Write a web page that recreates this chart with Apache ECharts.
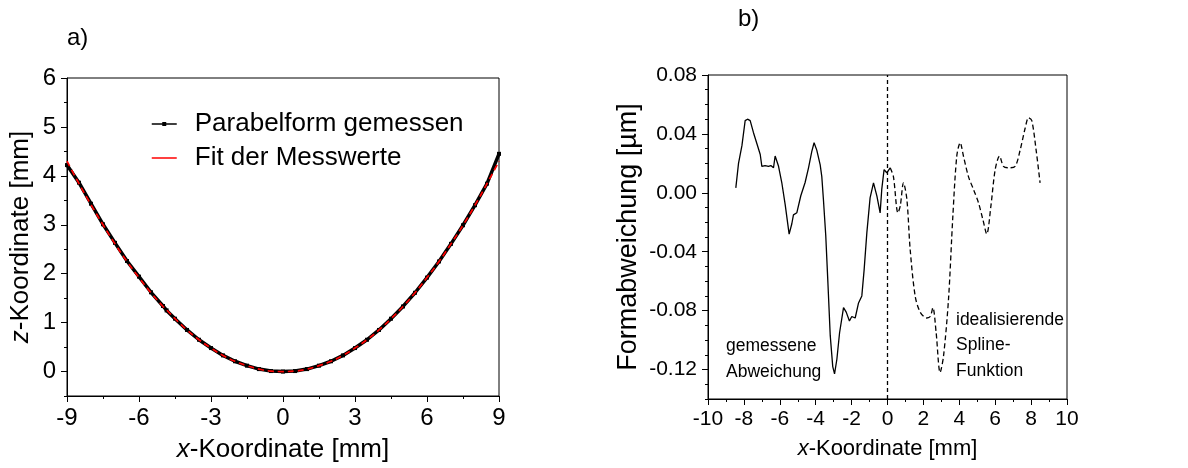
<!DOCTYPE html>
<html>
<head>
<meta charset="utf-8">
<script src="https://cdn.jsdelivr.net/npm/echarts@6/dist/echarts.min.js"></script>
<style>html,body{margin:0;padding:0;background:#fff}#c{width:1188px;height:468px}</style>
</head>
<body>
<div id="c"></div>
<script>
// ---- Panel a) : parabola ----
const parabX = [-9,-8.5,-8,-7.5,-7,-6.5,-6,-5.5,-5,-4.85,-4.5,-4,-3.5,-3,-2.5,-2,-1.5,-1,-0.5,0,0.5,1,1.5,2,2.5,3,3.5,4,4.5,5,5.5,6,6.5,7,7.5,8,8.5,9];
const parabMeasured = [4.22,3.86,3.43,3.01,2.63,2.26,1.94,1.62,1.34,1.25,1.08,0.85,0.65,0.48,0.33,0.21,0.12,0.05,0.01,0.0,0.01,0.05,0.12,0.21,0.33,0.48,0.65,0.85,1.08,1.33,1.61,1.92,2.25,2.61,2.99,3.40,3.84,4.45];
const parabFit = [4.30,3.84,3.41,3.00,2.61,2.25,1.92,1.61,1.33,1.26,1.08,0.85,0.65,0.48,0.33,0.21,0.12,0.05,0.01,0.0,0.01,0.05,0.12,0.21,0.33,0.48,0.65,0.85,1.08,1.33,1.61,1.92,2.25,2.61,2.99,3.40,3.84,4.30];
const leftYTicks = [0,1,2,3,4,5,6];

// ---- Panel b) : deviation ----
const measX = [-8.45,-8.30,-8.11,-7.93,-7.80,-7.65,-7.47,-7.24,-7.09,-7.0,-6.82,-6.63,-6.5,-6.35,-6.26,-6.07,-5.89,-5.70,-5.48,-5.33,-5.24,-5.05,-4.83,-4.59,-4.40,-4.22,-4.09,-3.94,-3.75,-3.66,-3.57,-3.44,-3.32,-3.19,-3.05,-2.95,-2.82,-2.67,-2.45,-2.30,-2.12,-1.99,-1.80,-1.62,-1.43,-1.30,-1.15,-0.97,-0.78,-0.59,-0.41,-0.32,-0.19,-0.04,0.06,0.15];
const measY = [0.0034,0.020,0.032,0.049,0.050,0.049,0.041,0.032,0.026,0.018,0.0185,0.018,0.0185,0.017,0.025,0.018,0.007,-0.008,-0.028,-0.021,-0.015,-0.0135,-0.002,0.007,0.017,0.028,0.034,0.029,0.019,0.011,-0.0045,-0.029,-0.061,-0.097,-0.118,-0.123,-0.113,-0.095,-0.078,-0.081,-0.087,-0.084,-0.085,-0.075,-0.070,-0.052,-0.027,-0.0034,0.0068,-0.0023,-0.0136,0.0023,0.0158,0.0136,0.0147,0.017];
const splineX = [0.15,0.33,0.58,0.71,0.89,1.08,1.26,1.54,1.82,2.19,2.38,2.53,2.71,2.93,3.12,3.40,3.64,3.86,4.05,4.23,4.51,4.79,5.07,5.31,5.53,5.76,6.0,6.24,6.46,6.74,7.11,7.39,7.67,7.86,8.04,8.28,8.50];
const splineY = [0.017,0.011,-0.0136,-0.009,0.0068,-0.0045,-0.038,-0.070,-0.081,-0.085,-0.084,-0.078,-0.095,-0.122,-0.111,-0.072,-0.016,0.025,0.034,0.025,0.011,0.0023,-0.0068,-0.018,-0.028,-0.009,0.0158,0.025,0.018,0.017,0.018,0.029,0.044,0.051,0.049,0.029,0.0068];
const rightYTicks = [-0.12,-0.08,-0.04,0,0.04,0.08];

const FONT = '"Liberation Sans", Arial, Helvetica, sans-serif';
const black = '#000';

function zip(a, b) { return a.map((v, i) => [v, b[i]]); }

const chart = echarts.init(document.getElementById('c'), null, {renderer: 'canvas'});

const axisCommon = {
  axisLine: {show: true, onZero: false, lineStyle: {color: black, width: 1}},
  splitLine: {show: false},
  minorSplitLine: {show: false}
};

const option = {
  animation: false,
  backgroundColor: '#fff',
  textStyle: {fontFamily: FONT, color: black},
  grid: [
    {left: 67, top: 78, width: 432, height: 324, show: true, borderColor: black, borderWidth: 1, backgroundColor: 'transparent'},
    {left: 708, top: 75, width: 359, height: 324, show: true, borderColor: black, borderWidth: 1, backgroundColor: 'transparent'}
  ],
  xAxis: [
    Object.assign({}, axisCommon, {
      gridIndex: 0, type: 'value', min: -9, max: 9, interval: 3,
      axisTick: {show: true, inside: false, length: 6, lineStyle: {color: black}},
      minorTick: {show: true, splitNumber: 2, length: 3, lineStyle: {color: black}},
      axisLabel: {fontSize: 24, color: black, margin: 10, fontFamily: FONT},
      name: '{i|x}-Koordinate [mm]', nameLocation: 'middle', nameGap: 41,
      nameTextStyle: {fontSize: 26, color: black, fontFamily: FONT,
        rich: {i: {fontSize: 26, fontStyle: 'italic', color: black, fontFamily: FONT}}}
    }),
    Object.assign({}, axisCommon, {
      gridIndex: 1, type: 'value', min: -10, max: 10, interval: 2,
      axisTick: {show: true, inside: false, length: 6, lineStyle: {color: black}},
      minorTick: {show: true, splitNumber: 2, length: 3, lineStyle: {color: black}},
      axisLabel: {fontSize: 21, color: black, margin: 10, fontFamily: FONT},
      name: '{i|x}-Koordinate [mm]', nameLocation: 'middle', nameGap: 39,
      nameTextStyle: {fontSize: 22, color: black, fontFamily: FONT,
        rich: {i: {fontSize: 22, fontStyle: 'italic', color: black, fontFamily: FONT}}}
    })
  ],
  yAxis: [
    Object.assign({}, axisCommon, {
      gridIndex: 0, type: 'value', min: -0.5, max: 6, position: 'left',
      axisTick: {show: true, inside: false, length: 6, customValues: leftYTicks, lineStyle: {color: black}},
      axisLabel: {fontSize: 24, color: black, margin: 11, fontFamily: FONT, customValues: leftYTicks},
      name: '{i|z}-Koordinate [mm]', nameLocation: 'middle', nameGap: 33, nameRotate: 90,
      nameTextStyle: {fontSize: 26, color: black, fontFamily: FONT,
        rich: {i: {fontSize: 26, fontStyle: 'italic', color: black, fontFamily: FONT}}}
    }),
    Object.assign({}, axisCommon, {
      gridIndex: 0, type: 'value', min: -0.5, max: 6, interval: 0.5, position: 'left', offset: 0,
      axisLine: {show: false, onZero: false},
      axisTick: {show: true, inside: false, length: 3, lineStyle: {color: black}},
      axisLabel: {show: false}
    }),
    Object.assign({}, axisCommon, {
      gridIndex: 1, type: 'value', min: -0.14, max: 0.08, position: 'left',
      axisTick: {show: true, inside: false, length: 6, customValues: rightYTicks, lineStyle: {color: black}},
      axisLabel: {fontSize: 21, color: black, margin: 11, fontFamily: FONT, customValues: rightYTicks,
        formatter: v => v.toFixed(2)},
      name: 'Formabweichung [µm]', nameLocation: 'middle', nameGap: 66, nameRotate: 90,
      nameTextStyle: {fontSize: 27, color: black, fontFamily: FONT}
    }),
    Object.assign({}, axisCommon, {
      gridIndex: 1, type: 'value', min: -0.14, max: 0.08, interval: 0.01, position: 'left', offset: 0,
      axisLine: {show: false, onZero: false},
      axisTick: {show: true, inside: false, length: 3, lineStyle: {color: black}},
      axisLabel: {show: false}
    })
  ],
  legend: {
    left: 146, top: 106, orient: 'vertical', padding: 5, itemWidth: 25, itemHeight: 5, itemGap: 8,
    data: [
      {name: 'Parabelform gemessen', lineStyle: {width: 1.5}, itemStyle: {color: black}},
      {name: 'Fit der Messwerte', lineStyle: {width: 1.5, type: 'solid', color: '#ff0000'}, itemStyle: {opacity: 0}}
    ],
    textStyle: {fontSize: 26, color: black, fontFamily: FONT, lineHeight: 26, padding: [0, 0, 0, 13]}
  },
  graphic: [
    {type: 'text', left: 67, top: 26, style: {text: 'a)', font: '24px ' + FONT, fill: black}},
    {type: 'text', left: 738, top: 7, style: {text: 'b)', font: '24px ' + FONT, fill: black}},
    {type: 'text', left: 726, top: 333, style: {text: 'gemessene\nAbweichung', font: '17.5px ' + FONT, fill: black, lineHeight: 26}},
    {type: 'text', left: 956, top: 307, style: {text: 'idealisierende\nSpline-\nFunktion', font: '17.5px ' + FONT, fill: black, lineHeight: 25.5}}
  ],
  series: [
    {
      name: 'Parabelform gemessen', type: 'line', xAxisIndex: 0, yAxisIndex: 0,
      data: zip(parabX, parabMeasured), symbol: 'rect', symbolSize: 4, showSymbol: true,
      lineStyle: {color: black, width: 3.5}, itemStyle: {color: black}, z: 2
    },
    {
      name: 'Fit der Messwerte', type: 'line', xAxisIndex: 0, yAxisIndex: 0,
      data: zip(parabX, parabFit), symbol: 'none', smooth: true,
      lineStyle: {color: '#ff0000', width: 1.7, type: [6, 4]}, itemStyle: {color: '#ff0000'}, z: 3
    },
    {
      name: 'gemessen', type: 'line', xAxisIndex: 1, yAxisIndex: 2,
      data: zip(measX, measY), symbol: 'none',
      lineStyle: {color: black, width: 1.3}
    },
    {
      name: 'spline', type: 'line', xAxisIndex: 1, yAxisIndex: 2,
      data: zip(splineX, splineY), symbol: 'none', smooth: 0.3,
      lineStyle: {color: black, width: 1.3, type: [5, 3]},
      markLine: {
        silent: true, symbol: 'none', label: {show: false},
        lineStyle: {color: black, width: 1.3, type: [4, 3]},
        data: [{xAxis: 0}]
      }
    }
  ]
};
chart.setOption(option);
</script>
</body>
</html>
